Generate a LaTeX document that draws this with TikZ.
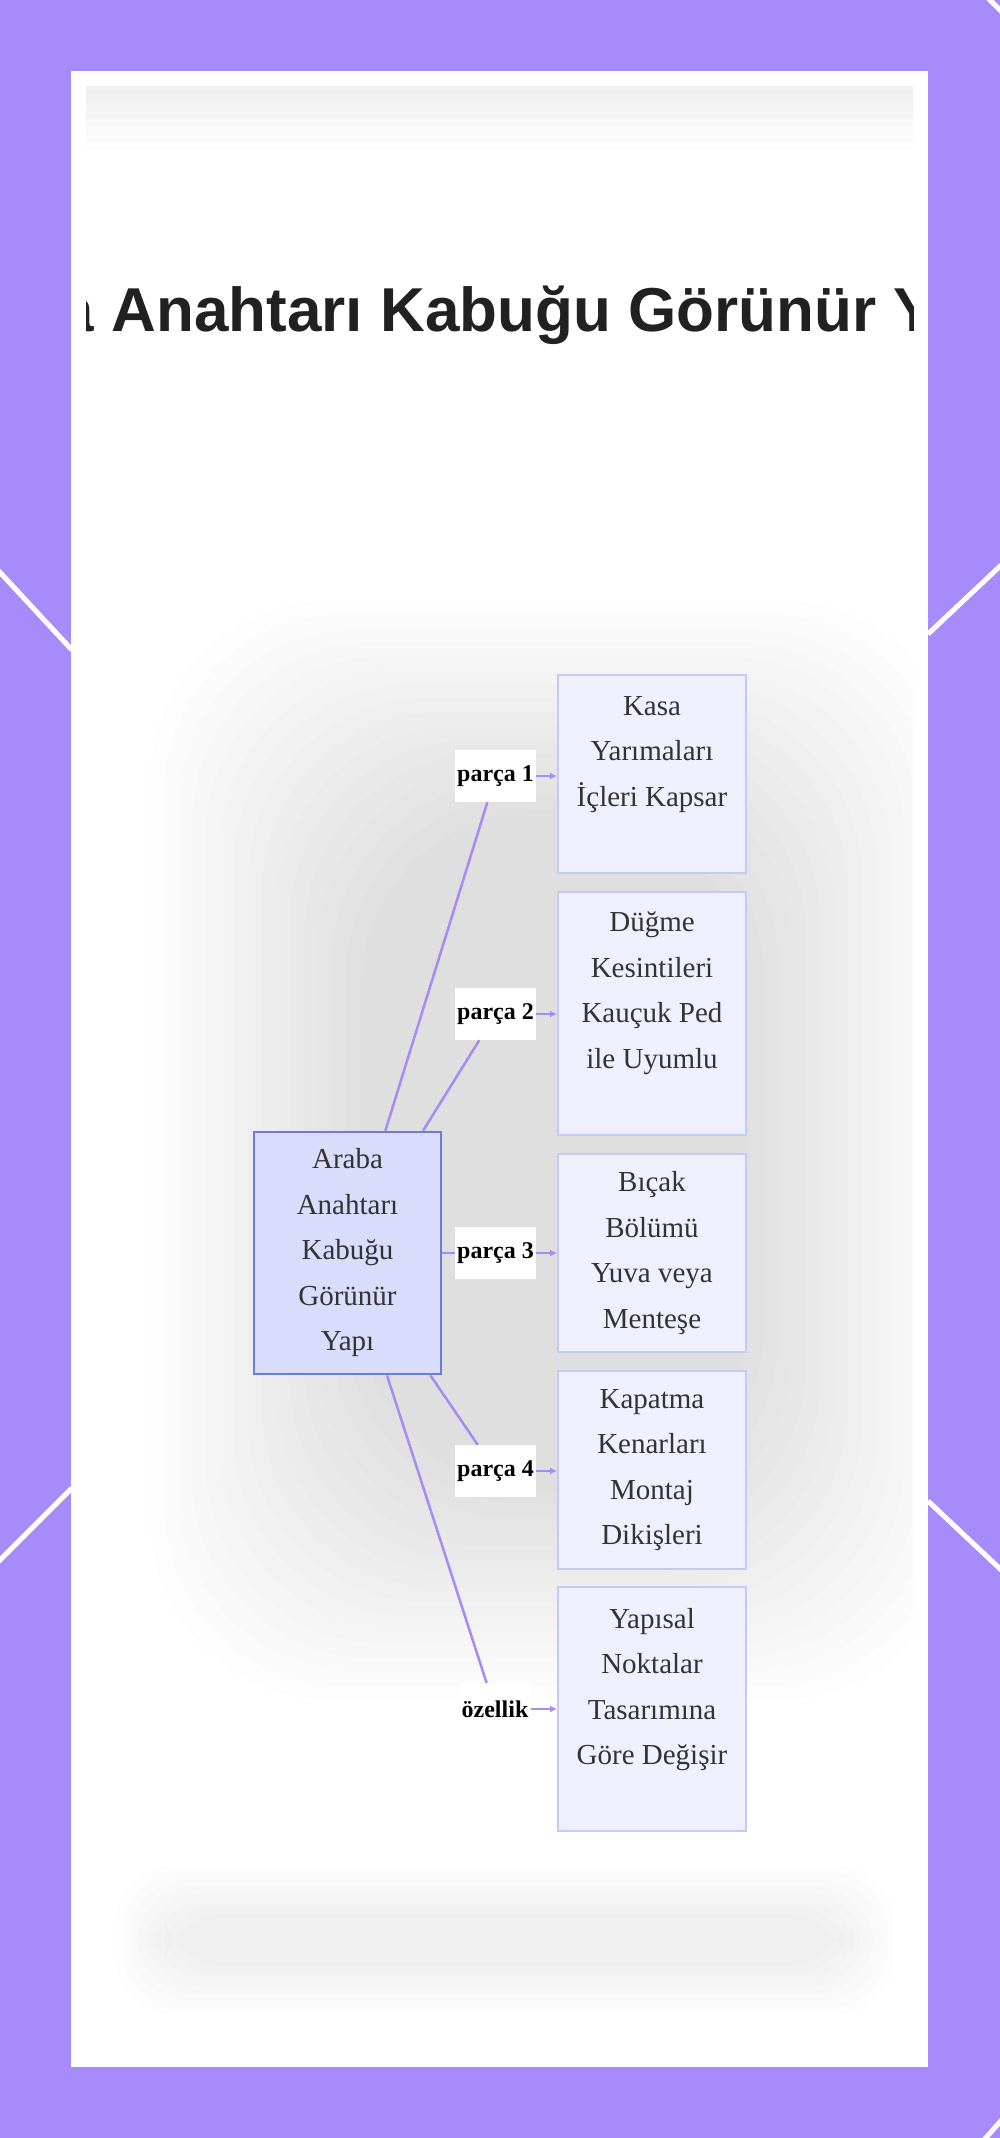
\documentclass[tikz,border=0pt]{standalone}
\usepackage{fontspec}
\setmainfont{Liberation Serif}
\newfontfamily\headfont{Liberation Sans}
\usetikzlibrary{arrows.meta}

\definecolor{frame}{HTML}{A78BFA}
\definecolor{linkc}{HTML}{A58CF2}
\definecolor{rootfill}{HTML}{D9DCFB}
\definecolor{rootline}{HTML}{6A7ED8}
\definecolor{partfill}{HTML}{EEF0FD}
\definecolor{partline}{HTML}{C3CAF5}
\definecolor{ink}{HTML}{333333}

\tikzset{
  rootbox/.style={draw=rootline, line width=2.5pt, fill=rootfill, minimum width=187pt,
    minimum height=242pt, align=center, text=ink, inner sep=0pt,
    font=\fontsize{29}{45.5}\selectfont},
  partbox/.style={draw=partline, line width=2pt, fill=partfill, minimum width=188pt,
    align=center, text=ink, inner sep=0pt, font=\fontsize{29}{45.5}\selectfont},
  tag/.style={fill=white, inner xsep=2pt, inner ysep=0pt, minimum height=52pt,
    font=\bfseries\fontsize{24}{28}\selectfont},
  link/.style={draw=linkc, line width=2.5pt},
  tolink/.style={link, -{Latex[length=7pt,width=7pt]}},
  streak/.style={white, line width=5pt},
  smoke/.style={fill=black, opacity=#1},
  smoke/.default=0.009
}

\begin{document}
\begin{tikzpicture}[x=1pt,y=-1pt]
  \clip (0,0) rectangle (1000,2138);
  \fill[frame] (0,0) rectangle (1000,2138);
  % white streaks behind the card
  \draw[streak] (-30,540) -- (72,650);
  \draw[streak] (-30,1590) -- (72,1488);
  \draw[streak] (1030,538) -- (928,634);
  \draw[streak] (928,1501) -- (1030,1597);
  \draw[streak] (975,-15) -- (1015,25);
  \draw[streak] (975,2150) -- (1015,2105);
  % card
  \fill[white] (71,71) rectangle (928,2067);
  \begin{scope}
    \clip (86,86) rectangle (913,2052);
    % soft shadows
    \foreach \k in {0,...,7}
      \fill[smoke=0.006] (86,86) rectangle (913,150-\k*8);
    \foreach \k in {0,...,15}
      \fill[smoke, rounded corners=180pt] (150+\k*14,600+\k*14) rectangle (960-\k*14,1700-\k*14);
    \foreach \k in {0,...,7}
      \fill[smoke=0.006, rounded corners=60pt] (115+\k*7,1865+\k*7) rectangle (895-\k*7,2015-\k*7);
    \node[anchor=base west, inner sep=0pt, text=black!87,
      font=\headfont\bfseries\fontsize{62}{70}\selectfont] (title) at (111.5,331.5)
      {\llap{Araba\ }Anahtarı Kabuğu Görünür\rlap{\ Yapı}};
  \end{scope}

  \node[rootbox] (root) at (347.5,1253) {Araba\\Anahtarı\\Kabuğu\\Görünür\\Yapı};

  \node[partbox, minimum height=198pt] (kasa) at (652,774) {Kasa\\Yarımaları\\İçleri Kapsar\\\mbox{}};
  \node[partbox, minimum height=243pt] (dugme) at (652,1013) {Düğme\\Kesintileri\\Kauçuk Ped\\ile Uyumlu\\\mbox{}};
  \node[partbox, minimum height=198pt] (bicak) at (652,1253) {Bıçak\\Bölümü\\Yuva veya\\Menteşe};
  \node[partbox, minimum height=198pt] (kapat) at (652,1470) {Kapatma\\Kenarları\\Montaj\\Dikişleri};
  \node[partbox, minimum height=244pt] (yapi) at (652,1709) {Yapısal\\Noktalar\\Tasarımına\\Göre Değişir\\\mbox{}};

  \node[tag] (t1) at (495.5,776) {parça 1};
  \node[tag] (t2) at (495.5,1014) {parça 2};
  \node[tag] (t3) at (495.5,1253) {parça 3};
  \node[tag] (t4) at (495.5,1471) {parça 4};
  \node[tag] (t5) at (495,1709) {özellik};

  \draw[link] (root) -- (t1);
  \draw[link] (root) -- (t2);
  \draw[link] (root) -- (t3);
  \draw[link] (root) -- (t4);
  \draw[link] (root) -- (t5);
  \draw[tolink] (t1) -- (t1 -| kasa.west);
  \draw[tolink] (t2) -- (t2 -| dugme.west);
  \draw[tolink] (t3) -- (t3 -| bicak.west);
  \draw[tolink] (t4) -- (t4 -| kapat.west);
  \draw[tolink] (t5) -- (t5 -| yapi.west);
\end{tikzpicture}
\end{document}
